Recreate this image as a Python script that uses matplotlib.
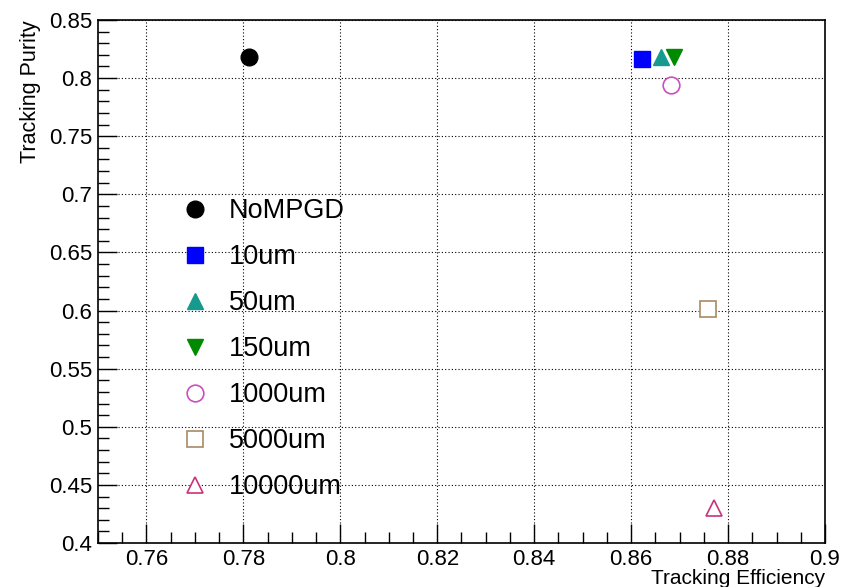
import matplotlib
matplotlib.use("Agg")
import matplotlib.pyplot as plt
from matplotlib.ticker import MultipleLocator

plt.rcParams['font.family'] = ['Liberation Sans', 'DejaVu Sans']

# tracking efficiency / purity for each MPGD resolution setting
labels = ["NoMPGD", "10um", "50um", "150um", "1000um", "5000um", "10000um"]
efficiency = [0.7812, 0.8622, 0.8662, 0.8688, 0.8682, 0.8759, 0.8770]
purity = [0.8183, 0.8165, 0.8180, 0.8180, 0.7943, 0.6015, 0.4305]

markers = ["o", "s", "^", "v", "o", "s", "^"]
colors = ["black", "#0000ff", "#169a8e", "#008a00", "#cc4fc0", "#a88a64", "#c8347a"]
filled = [True, True, True, True, False, False, False]
sizes = [12, 11.5, 12, 12, 12, 12, 12]

fig = plt.figure(figsize=(8.42, 5.87), dpi=100)
ax = fig.add_axes([98 / 842, 44 / 587, 727 / 842, 523 / 587])

for x, y, lab, m, c, f, s in zip(efficiency, purity, labels, markers, colors, filled, sizes):
    ax.plot([x], [y], linestyle="none", marker=m, markersize=s,
            color=c, markerfacecolor=c if f else "white",
            markeredgecolor=c, markeredgewidth=1.0 if f else 1.2,
            label=lab, zorder=3)

ax.set_xlim(0.75, 0.9)
ax.set_ylim(0.4, 0.85)
ax.xaxis.set_major_locator(MultipleLocator(0.02))
ax.xaxis.set_minor_locator(MultipleLocator(0.005))
ax.yaxis.set_major_locator(MultipleLocator(0.05))
ax.yaxis.set_minor_locator(MultipleLocator(0.01))
ax.xaxis.set_major_formatter(plt.FuncFormatter(lambda v, p: f"{v:g}"))
ax.yaxis.set_major_formatter(plt.FuncFormatter(lambda v, p: f"{v:g}"))

ax.tick_params(which="both", direction="in", top=False, right=False,
               labelsize=16, width=1.0, color="black")
ax.tick_params(which="major", length=14, pad=4)
ax.tick_params(which="minor", length=8)

ax.grid(True, which="major", linestyle=(0, (1, 2)), color="black", linewidth=0.8)
for sp in ax.spines.values():
    sp.set_linewidth(1.2)

ax.set_xlabel("Tracking Efficiency", fontsize=15, loc="right", labelpad=-0.5)
ax.set_ylabel("Tracking Purity", fontsize=15.5, loc="top", labelpad=6)

ax.legend(loc="upper left", bbox_to_anchor=(0.1, 0.68), frameon=False,
          fontsize=19.5, labelspacing=0.74, handlelength=1.0,
          handletextpad=0.76, borderaxespad=0, numpoints=1)

fig.savefig("out.png", dpi=100)
